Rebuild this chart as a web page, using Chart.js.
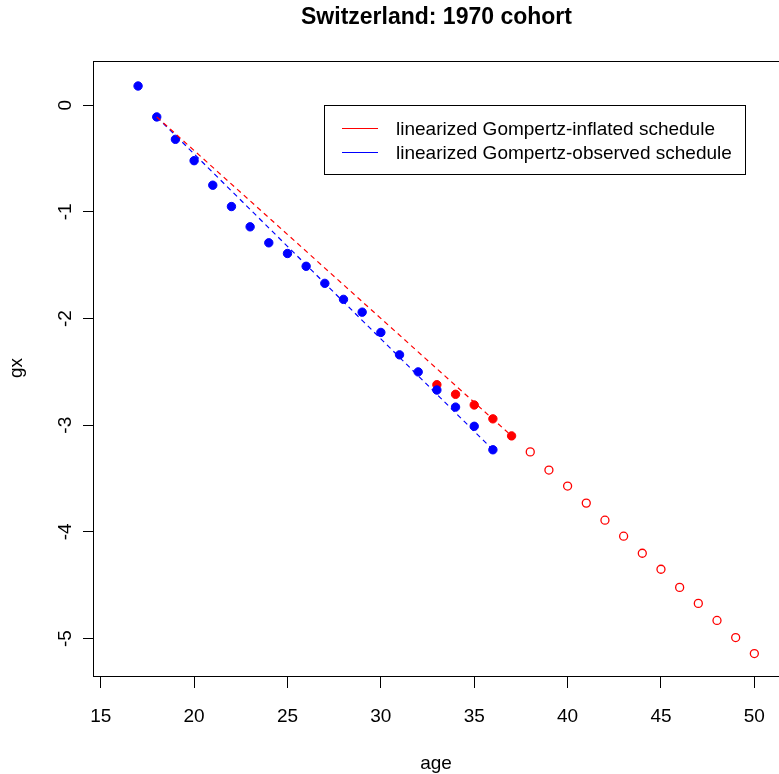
<!DOCTYPE html>
<html>
<head>
<meta charset="utf-8">
<title>Switzerland: 1970 cohort</title>
<script src="https://cdn.jsdelivr.net/npm/chart.js@4"></script>
<style>
  html, body { margin: 0; padding: 0; background: #fff; }
  canvas { display: block; }
</style>
</head>
<body>
<canvas id="gxChart" width="779" height="774"></canvas>
<script>
// observed schedule (blue filled dots)
const observedAges = [17, 18, 19, 20, 21, 22, 23, 24, 25, 26, 27, 28, 29, 30, 31, 32, 33, 34, 35, 36];
const observedGx = [0.18, -0.11, -0.32, -0.52, -0.75, -0.95, -1.14, -1.29, -1.39, -1.51,
                    -1.67, -1.82, -1.94, -2.13, -2.34, -2.50, -2.67, -2.83, -3.01, -3.23];
// inflated schedule (red filled dots)
const inflatedAges = [33, 34, 35, 36, 37];
const inflatedGx = [-2.62, -2.71, -2.81, -2.94, -3.10];
// projected schedule (red open circles)
const projectedAges = [38, 39, 40, 41, 42, 43, 44, 45, 46, 47, 48, 49, 50];
const projectedGx = [-3.25, -3.42, -3.57, -3.73, -3.89, -4.04, -4.20, -4.35, -4.52, -4.67, -4.83, -4.99, -5.14];
// fitted linearized Gompertz lines
const inflatedFitAges = [18, 37];
const inflatedFit = [-0.11, -3.10];
const observedFitAges = [18, 36];
const observedFit = [-0.11, -3.23];

const xTicks = [15, 20, 25, 30, 35, 40, 45, 50];
const yTicks = [0, -1, -2, -3, -4, -5];
const legendLabels = ['linearized Gompertz-inflated schedule', 'linearized Gompertz-observed schedule'];
const legendColors = ['#ff0000', '#0000ff'];

const FONT = '"Liberation Sans", Arial, Helvetica, sans-serif';
const pts = (xs, ys) => xs.map((x, i) => ({ x: x, y: ys[i] }));

// R-style frame, rotated y labels, titles and legend box
const rDecor = {
    id: 'rDecor',
    afterDraw(chart) {
        const { ctx, chartArea: a, scales: { y } } = chart;
        ctx.save();
        ctx.strokeStyle = '#000';
        ctx.lineWidth = 1;
        ctx.strokeRect(a.left - 0.5, a.top - 0.5, a.right - a.left + 2, a.bottom - a.top);

        ctx.fillStyle = '#000';
        ctx.font = '19px ' + FONT;
        ctx.textAlign = 'center';
        ctx.textBaseline = 'alphabetic';
        yTicks.forEach(v => {
            ctx.save();
            ctx.translate(70.5, y.getPixelForValue(v));
            ctx.rotate(-Math.PI / 2);
            ctx.fillText(String(v), 0, 0);
            ctx.restore();
        });

        ctx.save();
        ctx.translate(22, 368);
        ctx.rotate(-Math.PI / 2);
        ctx.fillText('gx', 0, 0);
        ctx.restore();

        ctx.fillText('age', 436, 769);

        ctx.font = 'bold 23px ' + FONT;
        ctx.fillText('Switzerland: 1970 cohort', 436.5, 23.5);

        // legend
        ctx.strokeRect(324.5, 105.5, 421, 69);
        ctx.font = '19px ' + FONT;
        ctx.textAlign = 'left';
        ctx.textBaseline = 'middle';
        legendLabels.forEach((label, i) => {
            const ly = [128.5, 152.5][i];
            ctx.strokeStyle = legendColors[i];
            ctx.beginPath();
            ctx.moveTo(342, ly);
            ctx.lineTo(378, ly);
            ctx.stroke();
            ctx.fillText(label, 396, ly + 1);
        });
        ctx.restore();
    }
};

new Chart(document.getElementById('gxChart'), {
    type: 'scatter',
    data: {
        datasets: [
            {
                label: 'projected',
                data: pts(projectedAges, projectedGx),
                pointRadius: 4,
                borderWidth: 1.3,
                borderColor: '#ff0000',
                backgroundColor: 'rgba(0,0,0,0)',
                order: 5
            },
            {
                label: legendLabels[0],
                type: 'line',
                data: pts(inflatedFitAges, inflatedFit),
                borderColor: '#ff0000',
                borderWidth: 1.2,
                borderDash: [5, 4],
                pointRadius: 0,
                fill: false,
                order: 1
            },
            {
                label: legendLabels[1],
                type: 'line',
                data: pts(observedFitAges, observedFit),
                borderColor: '#0000ff',
                borderWidth: 1.2,
                borderDash: [5, 4],
                pointRadius: 0,
                fill: false,
                order: 2
            },
            {
                label: 'observed',
                data: pts(observedAges, observedGx),
                pointRadius: 4.2,
                borderWidth: 1,
                borderColor: '#0000ff',
                backgroundColor: '#0000ff',
                order: 3
            },
            {
                label: 'inflated',
                data: pts(inflatedAges, inflatedGx),
                pointRadius: 4.2,
                borderWidth: 1,
                borderColor: '#ff0000',
                backgroundColor: '#ff0000',
                order: 4
            }
        ]
    },
    options: {
        responsive: false,
        animation: false,
        layout: { autoPadding: false, padding: { top: 62, right: 0, bottom: 0, left: 0 } },
        plugins: { legend: { display: false }, tooltip: { enabled: false } },
        scales: {
            x: {
                type: 'linear',
                min: 14.64,
                max: 51.32,
                afterBuildTicks: s => { s.ticks = xTicks.map(v => ({ value: v })); },
                afterFit: s => { s.height = 97; s.paddingLeft = 0; s.paddingRight = 0; },
                grid: { drawOnChartArea: false, drawTicks: true, tickLength: 11, color: '#000' },
                border: { display: false },
                ticks: { color: '#000', padding: 17, font: { family: FONT, size: 19 }, maxRotation: 0 }
            },
            y: {
                type: 'linear',
                min: -5.36,
                max: 0.405,
                afterBuildTicks: s => { s.ticks = yTicks.map(v => ({ value: v })); },
                afterFit: s => { s.width = 94; s.paddingTop = 0; s.paddingBottom = 0; },
                grid: { drawOnChartArea: false, drawTicks: true, tickLength: 11, color: '#000' },
                border: { display: false },
                ticks: { display: false }
            }
        }
    },
    plugins: [rDecor]
});
</script>
</body>
</html>
